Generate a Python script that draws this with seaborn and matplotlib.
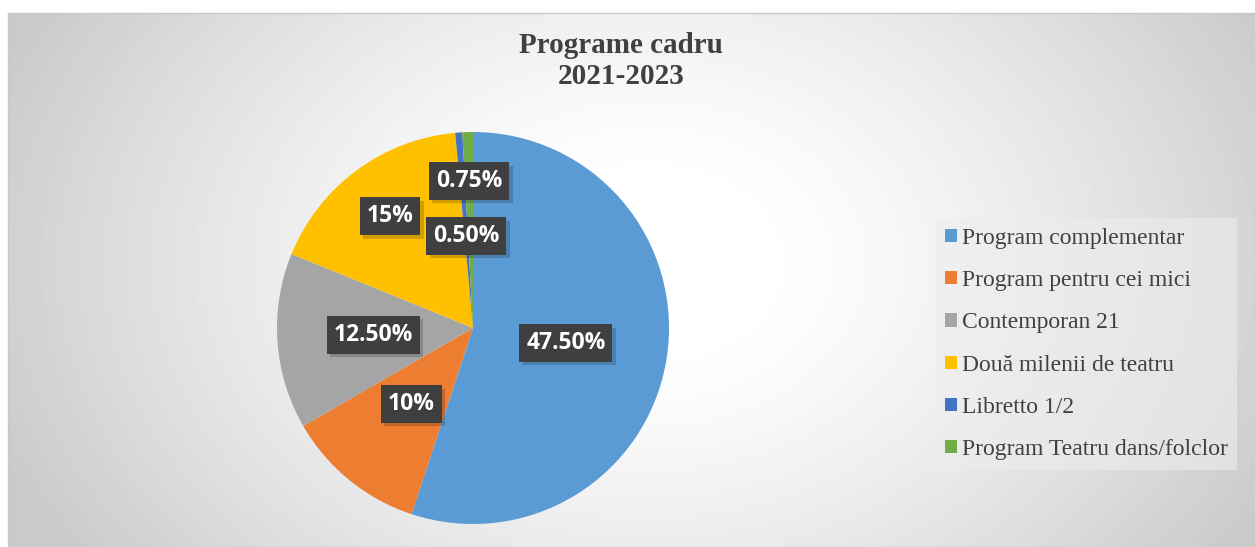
import numpy as np
import matplotlib
matplotlib.use("Agg")
import matplotlib.pyplot as plt
import matplotlib.patheffects as pe
import seaborn as sns

# data
categories = ["Program complementar", "Program pentru cei mici", "Contemporan 21",
              "Două milenii de teatru", "Libretto 1/2", "Program Teatru dans/folclor"]
values = [47.5, 10, 12.5, 15, 0.5, 0.75]
value_labels = ["47.50%", "10%", "12.50%", "15%", "0.50%", "0.75%"]
colors = ["#5B9BD5", "#ED7D31", "#A5A5A5", "#FFC000", "#4472C4", "#70AD47"]
label_radius = [0.48, 0.50, 0.51, 0.71, 0.47, 0.75]

sns.set_theme(style="white")
palette = sns.color_palette(colors)
plt.rcParams["font.family"] = ["Liberation Serif", "DejaVu Sans"]

W, H = 1255, 547
fig = plt.figure(figsize=(W / 100, H / 100), dpi=100)
fig.patch.set_facecolor("white")

# background: radial gradient chart area
bg = fig.add_axes([8 / W, 0, 1 - 8 / W, 1 - 13 / H])
bg.set_zorder(-5)
yy, xx = np.mgrid[0:534, 0:1247]
d = np.sqrt(((xx - 640) / 700) ** 2 + ((yy - 250) / 520) ** 2)
shade = 1 - 0.21 * np.clip((d - 0.15) / 0.85, 0, 1) ** 1.3
bg.imshow(shade, cmap="gray", vmin=0, vmax=1, aspect="auto", interpolation="bilinear")
bg.set_xticks([]); bg.set_yticks([])
for s in bg.spines.values():
    s.set_color("#c8c8c8")
    s.set_linewidth(1)

# pie
cx, cy, r = 473, 328, 196
ax = fig.add_axes([(cx - r) / W, (H - cy - r) / H, 2 * r / W, 2 * r / H])
ax.set_facecolor("none")
wedges, _ = ax.pie(values, colors=palette, startangle=90, counterclock=False,
                   radius=1, wedgeprops=dict(linewidth=0))
ax.set_xlim(-1, 1); ax.set_ylim(-1, 1)
ax.set_aspect("equal")
ax.axis("off")

for w, lab, rr in zip(wedges, value_labels, label_radius):
    ang = np.deg2rad((w.theta1 + w.theta2) / 2)
    x, y = rr * np.cos(ang), rr * np.sin(ang)
    t = ax.text(x, y, lab, ha="center", va="center", fontsize=16.5, fontweight="bold",
                family="Open Sans", color="white",
                bbox=dict(boxstyle="square,pad=0.3", fc="#3f3f3f", ec="none"))
    t.get_bbox_patch().set_path_effects(
        [pe.SimplePatchShadow(offset=(2.5, -2.5), shadow_rgbFace="black", alpha=0.18), pe.Normal()])

# title
fig.text(621 / W, 1 - 61 / H, "Programe cadru\n2021-2023", ha="center", va="center",
         fontsize=21, fontweight="bold", color="#404040", linespacing=1.15)

# legend
leg = fig.legend(wedges, categories, loc="center left",
                 bbox_to_anchor=(924 / W, 1 - 344 / H), frameon=True,
                 fontsize=17, labelcolor="#404040", handlelength=0.5,
                 handleheight=0.5, handletextpad=0.2, labelspacing=0.9,
                 borderpad=0.4, fancybox=False)
leg.get_frame().set_facecolor("#ededed")
leg.get_frame().set_edgecolor("none")
leg.get_frame().set_alpha(0.6)

fig.savefig("out.png", dpi=100)
